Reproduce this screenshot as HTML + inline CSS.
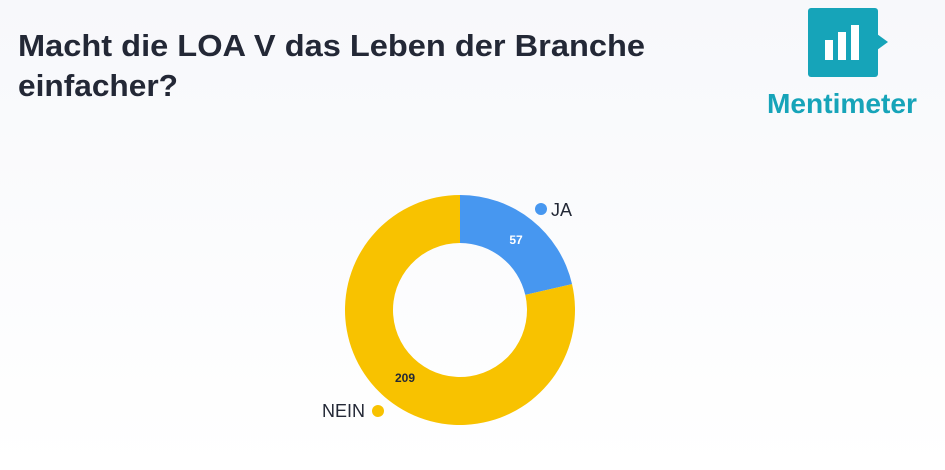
<!DOCTYPE html>
<html><head><meta charset="utf-8"><style>
html,body{margin:0;padding:0;width:945px;height:470px;overflow:hidden;background:#fff;}
</style></head><body>
<svg width="945" height="470" xmlns="http://www.w3.org/2000/svg" style="display:block">
<defs><linearGradient id="bg" x1="0" y1="0" x2="0" y2="1"><stop offset="0" stop-color="#f7f8fb"/><stop offset="1" stop-color="#ffffff"/></linearGradient></defs>
<rect width="945" height="470" fill="url(#bg)"/>
<g font-family="Liberation Sans, sans-serif" font-weight="bold" fill="#232836">
<text x="18" y="56" font-size="31" textLength="627" lengthAdjust="spacingAndGlyphs">Macht die LOA V das Leben der Branche</text>
<text x="18" y="96" font-size="31" textLength="160" lengthAdjust="spacingAndGlyphs">einfacher?</text>
</g>
<rect x="808" y="8" width="70" height="69" rx="3" fill="#16a4b9"/>
<polygon points="877,34 888,42 877,50" fill="#16a4b9"/>
<rect x="825" y="40" width="8" height="20" fill="#fff"/>
<rect x="838" y="32" width="8" height="28" fill="#fff"/>
<rect x="851" y="25" width="8" height="35" fill="#fff"/>
<text x="767" y="113" font-family="Liberation Sans, sans-serif" font-weight="bold" font-size="28" fill="#16a4b9" textLength="150" lengthAdjust="spacingAndGlyphs">Mentimeter</text>
<path d="M460,195 A115,115 0 0 1 572.05,284.13 L525.28,294.93 A67,67 0 0 0 460,243 Z" fill="#4797f0"/>
<path d="M572.05,284.13 A115,115 0 1 1 460,195 L460,243 A67,67 0 1 0 525.28,294.93 Z" fill="#f8c200"/>
<g font-family="Liberation Sans, sans-serif" font-weight="bold">
<text x="516" y="244" font-size="12" fill="#fff" text-anchor="middle">57</text>
<text x="405" y="382" font-size="12" fill="#232836" text-anchor="middle">209</text>
<circle cx="541" cy="209" r="6" fill="#4797f0"/>
<text x="551" y="216" font-size="18" font-weight="normal" fill="#232836">JA</text>
<text x="322" y="417" font-size="18" font-weight="normal" fill="#232836">NEIN</text>
<circle cx="378" cy="411" r="6" fill="#f8c200"/>
</g>
</svg>
</body></html>
